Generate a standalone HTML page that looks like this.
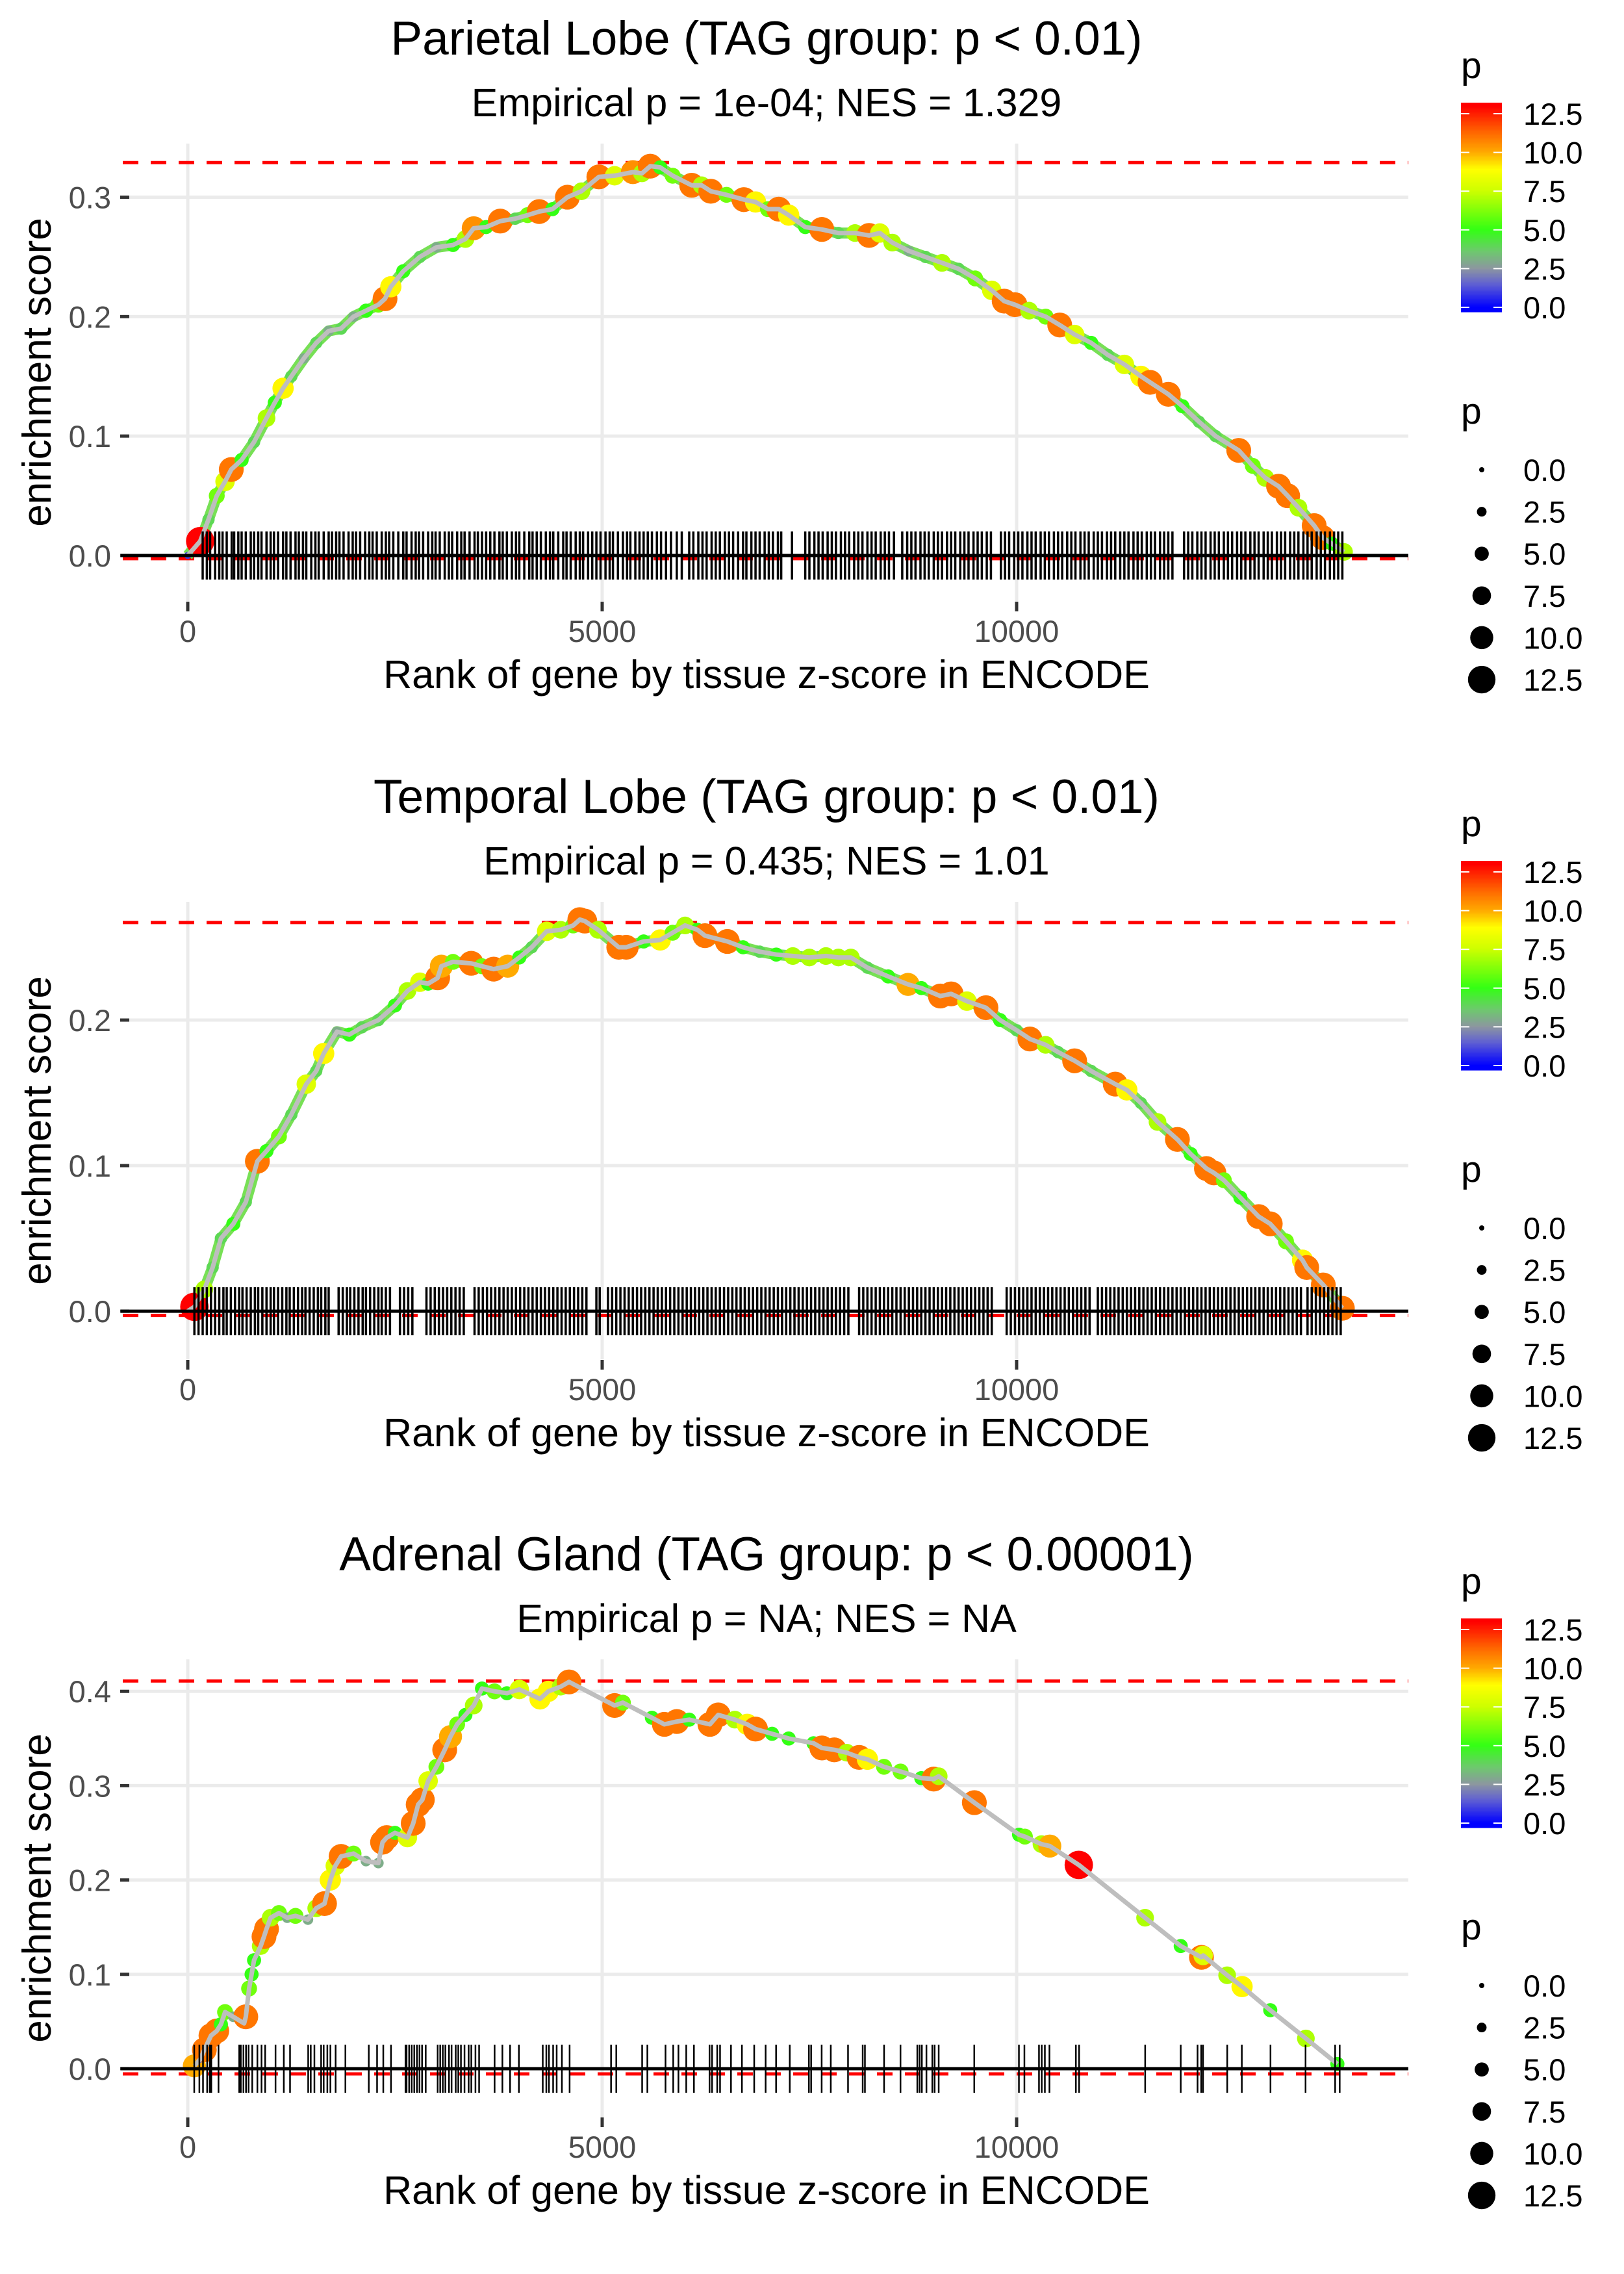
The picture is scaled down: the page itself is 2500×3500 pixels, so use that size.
<!DOCTYPE html>
<html><head><meta charset="utf-8">
<style>
html,body{margin:0;padding:0;background:#fff;}
svg{display:block;font-family:"Liberation Sans",Arial,sans-serif;}
</style></head>
<body>
<svg id="fig" width="2500" height="3500" viewBox="0 0 2500 3500" xmlns="http://www.w3.org/2000/svg"></svg>
<script>
// ---------- data ----------
const titles = ["Parietal Lobe (TAG group: p < 0.01)","Temporal Lobe (TAG group: p < 0.01)","Adrenal Gland (TAG group: p < 0.00001)"];
const subtitles = ["Empirical p = 1e-04; NES = 1.329","Empirical p = 0.435; NES = 1.01","Empirical p = NA; NES = NA"];
const xTicks = [0,5000,10000];
const yTicks1 = [0,0.1,0.2,0.3];
const yTicks2 = [0,0.1,0.2];
const yTicks3 = [0,0.1,0.2,0.3,0.4];
const esMax = [0.329,0.267,0.411];
const esMin = [-0.0027,-0.0029,-0.0055];
const legendTicks = [0,2.5,5,7.5,10,12.5];

const p1 = [[0,0,1],[150,0.012,13],[250,0.03,4],[350,0.05,6],[450,0.062,8],[525,0.072,11],[650,0.08,5],[800,0.095,4],[950,0.115,7],[1050,0.128,5],[1150,0.14,9],[1250,0.15,4],[1400,0.165,3],[1550,0.178,4],[1700,0.188,3],[1850,0.19,4],[2000,0.2,3],[2150,0.205,5],[2300,0.21,6],[2380,0.215,11],[2450,0.225,9],[2600,0.238,5],[2800,0.25,4],[3000,0.258,3],[3200,0.26,5],[3350,0.265,7],[3450,0.274,10.5],[3600,0.275,5],[3770,0.28,11],[3950,0.282,4],[4100,0.285,6],[4240,0.288,11],[4400,0.29,5],[4580,0.3,11],[4750,0.305,7],[4960,0.317,11],[5150,0.318,8],[5370,0.321,10.5],[5480,0.32,7],[5580,0.326,11],[5700,0.325,5],[5850,0.318,6],[6080,0.31,11],[6200,0.31,7],[6310,0.305,11],[6500,0.302,6],[6710,0.298,11],[6850,0.296,9],[7000,0.29,6],[7130,0.29,11],[7250,0.285,9],[7450,0.275,5],[7650,0.273,11],[7850,0.27,4],[8050,0.27,7],[8220,0.268,11],[8350,0.27,8],[8500,0.262,7],[8700,0.255,3],[8900,0.25,4],[9100,0.245,7],[9300,0.24,4],[9500,0.232,6],[9700,0.222,8],[9850,0.213,11],[9980,0.21,11],[10150,0.205,7],[10350,0.2,6],[10520,0.193,11],[10700,0.185,8],[10900,0.178,5],[11100,0.168,4],[11300,0.16,8],[11500,0.15,9],[11610,0.145,11],[11830,0.135,11],[12000,0.125,5],[12200,0.112,4],[12400,0.1,4],[12680,0.088,11],[12850,0.075,6],[13000,0.065,7],[13160,0.058,11],[13270,0.05,11],[13400,0.04,7],[13590,0.025,11],[13690,0.015,11],[13800,0.01,5],[13950,0.003,7]];
const p2 = [[0,0,1],[80,0.003,13],[200,0.015,7],[300,0.03,4],[400,0.05,4],[550,0.06,5],[700,0.075,4],[840,0.103,11],[950,0.11,5],[1100,0.12,6],[1250,0.135,4],[1430,0.156,8],[1550,0.165,4],[1640,0.177,9],[1800,0.192,3],[1950,0.19,5],[2100,0.195,4],[2300,0.2,4],[2500,0.21,5],[2650,0.22,7],[2800,0.226,8],[2900,0.225,5],[3015,0.229,11],[3060,0.237,10],[3200,0.24,6],[3420,0.239,11],[3550,0.237,6],[3690,0.235,11],[3860,0.237,10],[4000,0.243,5],[4150,0.25,4],[4330,0.261,8],[4500,0.262,7],[4650,0.265,6],[4730,0.269,11],[4790,0.268,11],[4950,0.262,7],[5200,0.25,11],[5290,0.25,11],[5500,0.254,5],[5700,0.255,9],[5850,0.26,6],[6000,0.265,7],[6150,0.262,5],[6240,0.258,11],[6510,0.254,11],[6700,0.25,5],[6900,0.247,4],[7100,0.245,5],[7300,0.244,7],[7500,0.243,7],[7700,0.244,7],[7850,0.243,7],[8000,0.243,7],[8200,0.236,4],[8450,0.23,5],[8690,0.2245,10],[8850,0.222,5],[9080,0.2165,11],[9210,0.218,11],[9400,0.213,8],[9630,0.2085,11],[9800,0.2,5],[10000,0.193,4],[10160,0.187,11],[10350,0.183,7],[10500,0.178,4],[10700,0.172,11],[10900,0.165,4],[11190,0.156,11],[11330,0.152,9],[11500,0.143,4],[11700,0.13,7],[11940,0.118,11],[12100,0.108,5],[12290,0.098,11],[12380,0.095,11],[12500,0.09,6],[12700,0.078,5],[12920,0.065,11],[13060,0.06,11],[13250,0.048,6],[13450,0.035,9],[13500,0.03,11],[13700,0.018,11],[13930,0.002,11]];
const p3 = [[80,0.003,10],[150,0.01,1],[200,0.02,11],[280,0.035,11],[350,0.04,11],[400,0.047,5],[450,0.06,6],[550,0.055,3],[680,0.048,3],[700,0.055,11],[740,0.085,6],[770,0.1,5],[800,0.115,5],[880,0.13,7],[920,0.14,11],[950,0.148,11],[1000,0.16,7],[1100,0.165,6],[1200,0.16,3],[1300,0.162,6],[1450,0.158,3],[1550,0.17,7],[1650,0.175,11],[1720,0.2,9],[1780,0.215,8],[1850,0.225,11],[2000,0.228,6],[2150,0.22,3],[2300,0.218,3],[2350,0.24,11],[2400,0.245,11],[2500,0.25,5],[2650,0.245,8],[2720,0.26,11],[2780,0.28,11],[2830,0.285,11],[2900,0.305,8],[3000,0.32,6],[3100,0.338,11],[3170,0.352,10],[3250,0.365,6],[3350,0.375,5],[3450,0.385,7],[3550,0.403,5],[3700,0.4,6],[3850,0.398,5],[4000,0.402,8],[4250,0.392,9],[4350,0.4,9],[4500,0.405,7],[4600,0.41,11],[5150,0.385,11],[5250,0.388,6],[5600,0.372,5],[5750,0.365,11],[5900,0.368,11],[6050,0.37,5],[6300,0.365,11],[6400,0.375,11],[6600,0.37,7],[6750,0.365,9],[6850,0.36,11],[7050,0.355,5],[7250,0.35,5],[7550,0.345,5],[7650,0.34,11],[7800,0.338,11],[7950,0.335,7],[8100,0.33,11],[8200,0.328,9],[8400,0.32,6],[8600,0.315,6],[8850,0.308,5],[9000,0.307,11],[9060,0.31,7],[9490,0.282,11],[10030,0.248,5],[10100,0.246,6],[10300,0.238,7],[10400,0.236,10],[10750,0.216,13],[11550,0.16,7],[11980,0.13,5],[12230,0.118,11],[12250,0.12,8],[12540,0.099,7],[12720,0.087,9],[13060,0.062,5],[13490,0.032,7],[13870,0.005,5]];

const rug1 = [180,230,270,330,380,420,470,530,560,610,650,700,760,800,850,890,950,1000,1040,1090,1150,1190,1240,1300,1340,1390,1430,1490,1540,1580,1640,1700,1740,1790,1830,1880,1940,1990,2030,2080,2140,2190,2230,2280,2340,2390,2430,2480,2540,2600,2640,2700,2750,2790,2840,2900,2950,2990,3040,3100,3150,3190,3250,3300,3340,3400,3460,3500,3550,3600,3650,3700,3760,3800,3850,3910,3960,4000,4060,4120,4160,4210,4260,4320,4370,4410,4470,4530,4570,4620,4680,4730,4770,4830,4880,4930,4980,5040,5090,5130,5190,5250,5300,5340,5400,5450,5500,5550,5600,5660,5710,5770,5830,5900,5960,6050,6100,6160,6210,6260,6320,6370,6420,6480,6530,6580,6640,6700,6740,6800,6850,6900,6960,7010,7060,7120,7160,7290,7450,7500,7560,7610,7660,7720,7770,7820,7880,7930,7980,8040,8090,8140,8200,8250,8300,8360,8410,8460,8520,8620,8680,8730,8780,8840,8890,8940,9000,9050,9100,9160,9210,9260,9320,9370,9420,9480,9530,9580,9640,9690,9810,9860,9910,9970,10020,10070,10130,10180,10230,10290,10340,10390,10450,10500,10550,10610,10660,10710,10770,10820,10870,10930,10980,11030,11090,11140,11190,11250,11300,11350,11410,11460,11510,11570,11620,11670,11730,11780,11830,11880,12020,12070,12120,12180,12230,12280,12340,12390,12440,12500,12550,12600,12660,12710,12760,12820,12870,12920,12980,13030,13080,13140,13190,13240,13300,13350,13400,13460,13510,13560,13620,13670,13720,13780,13830,13880,13930];
const rug2 = [80,130,180,230,280,330,380,430,470,520,570,620,660,710,760,810,850,900,950,1000,1040,1090,1140,1190,1230,1280,1330,1380,1420,1470,1520,1570,1610,1660,1700,1820,1870,1920,1960,2010,2060,2110,2150,2200,2250,2300,2340,2390,2440,2560,2610,2660,2710,2880,2930,2980,3030,3080,3130,3180,3230,3280,3330,3460,3510,3560,3610,3660,3710,3760,3810,3860,3910,3960,4010,4060,4110,4160,4210,4260,4310,4360,4410,4460,4510,4560,4610,4660,4710,4760,4810,4930,4970,5070,5120,5170,5220,5270,5320,5370,5420,5470,5520,5570,5620,5670,5720,5770,5820,5870,5920,5970,6020,6070,6120,6170,6220,6270,6320,6370,6420,6470,6520,6570,6620,6670,6720,6770,6820,6870,6920,6970,7020,7070,7120,7170,7220,7270,7320,7370,7420,7470,7520,7570,7620,7670,7720,7770,7820,7870,7920,7970,8100,8150,8200,8250,8300,8350,8400,8450,8500,8550,8600,8650,8700,8750,8800,8850,8900,8950,9000,9050,9100,9150,9200,9250,9300,9350,9400,9450,9500,9550,9600,9650,9700,9880,9930,9980,10030,10080,10130,10180,10230,10280,10330,10380,10430,10480,10530,10580,10630,10680,10730,10780,10830,10880,10980,11030,11080,11130,11180,11230,11280,11330,11380,11430,11480,11530,11580,11630,11680,11730,11780,11830,11880,11930,11980,12030,12080,12130,12180,12230,12280,12330,12380,12430,12480,12530,12580,12630,12680,12730,12780,12830,12880,12930,12980,13030,13080,13130,13180,13230,13280,13330,13380,13430,13510,13560,13610,13660,13710,13760,13810,13860,13910];
const rug3 = [78,140,184,234,265,284,371,621,640,672,703,734,778,840,890,934,1059,1159,1234,1453,1484,1528,1609,1640,1684,1721,1784,1902,2184,2284,2359,2452,2627,2640,2671,2702,2733,2765,2796,2827,2871,3015,3046,3077,3108,3152,3183,3233,3264,3296,3339,3389,3421,3471,3515,3702,3796,3889,3995,4283,4326,4358,4408,4451,4514,4607,5107,5170,5482,5545,5764,5857,5920,6014,6107,6295,6326,6388,6422,6554,6686,6834,6972,7098,7263,7494,7521,7648,7758,7966,8143,8170,8401,8599,8802,8830,8857,8912,8983,9011,9060,9489,10028,10094,10270,10303,10341,10396,10715,10754,11551,11980,12183,12227,12249,12541,12717,13063,13486,13843,13898];

// ---------- helpers ----------
const NS = "http://www.w3.org/2000/svg";
const svg = document.getElementById("fig");
function mk(tag, attrs, parent){
  const e = document.createElementNS(NS, tag);
  for (const k in attrs) e.setAttribute(k, attrs[k]);
  (parent||svg).appendChild(e);
  return e;
}
const colStops = [[0,[0,0,255]],[1.5,[96,96,210]],[2.5,[140,150,160]],[3.6,[110,200,110]],[5,[51,255,20]],[7.5,[204,255,0]],[8.9,[255,255,0]],[10,[255,170,0]],[11.3,[255,102,0]],[13,[255,0,0]]];
function pColor(p){
  if (p<=colStops[0][0]) return "rgb("+colStops[0][1].join(",")+")";
  for (let i=1;i<colStops.length;i++){
    if (p<=colStops[i][0]){
      const a=colStops[i-1], b=colStops[i], t=(p-a[0])/(b[0]-a[0]);
      const c=a[1].map((v,j)=>Math.round(v+(b[1][j]-v)*t));
      return "rgb("+c.join(",")+")";
    }
  }
  return "rgb(255,0,0)";
}
function pRadius(p){ return (8 + 2.75*p)/2; }

const PX0 = 189, PX1 = 2168, PH = 704;
const XDOM = [-784, 14726];
const panelTops = [221, 1388, 2554];
const yDoms = [[-0.0381,0.3449],[-0.033,0.28125],[-0.051,0.4339]];
const yTickSets = [yTicks1, yTicks2, yTicks3];
const pointSets = [p1, p2, p3];
const rugSets = [rug1, rug2, rug3];
const halo = [true, true, false];

for (let k=0;k<3;k++){
  const T = panelTops[k];
  const yd = yDoms[k];
  const xs = v => PX0 + (v - XDOM[0])/(XDOM[1]-XDOM[0])*(PX1-PX0);
  const ys = v => T + PH - (v - yd[0])/(yd[1]-yd[0])*PH;
  const g = mk("g", {});
  
  

  const t = mk("text", {x:1180, y:T-137, "text-anchor":"middle", "font-size":73, fill:"#000"}, g);
  t.textContent = titles[k];
  
  
  const st = mk("text", {x:1180, y:T-42, "text-anchor":"middle", "font-size":61, fill:"#000"}, g);
  st.textContent = subtitles[k];
  
  

  // grid
  yTickSets[k].forEach(v=>{
    const l = mk("line",{x1:PX0,x2:PX1,y1:ys(v),y2:ys(v),stroke:"#ebebeb","stroke-width":5},g);
    
    
  });
  xTicks.forEach(v=>{
    const l = mk("line",{x1:xs(v),x2:xs(v),y1:T,y2:T+PH,stroke:"#ebebeb","stroke-width":5},g);
    
    
  });
  // axis ticks + labels
  yTickSets[k].forEach(v=>{
    const tk = mk("line",{x1:185,x2:199,y1:ys(v),y2:ys(v),stroke:"#333","stroke-width":5},g);
    
    
    const lb = mk("text",{x:171,y:ys(v)+17,"text-anchor":"end","font-size":47,fill:"#4d4d4d"},g);
    lb.textContent = v.toFixed(1);
    
    
  });
  xTicks.forEach(v=>{
    const tk = mk("line",{x1:xs(v),x2:xs(v),y1:T+PH+1,y2:T+PH+16,stroke:"#333","stroke-width":5},g);
    
    
    const lb = mk("text",{x:xs(v),y:T+750+17,"text-anchor":"middle","font-size":47,fill:"#4d4d4d"},g);
    lb.textContent = String(v);
    
    
  });
  const xt = mk("text",{x:1180,y:T+817+21,"text-anchor":"middle","font-size":61,fill:"#000"},g);
  xt.textContent = "Rank of gene by tissue z-score in ENCODE";
  
  
  const cy = T + PH/2;
  const yt = mk("text",{x:0,y:0,"text-anchor":"middle","font-size":62,fill:"#000",transform:"translate(78,"+cy+") rotate(-90)"},g);
  yt.textContent = "enrichment score";
  
  

  // reference lines
  const rMax = mk("line",{x1:PX0,x2:PX1,y1:ys(esMax[k]),y2:ys(esMax[k]),stroke:"#ff0000","stroke-width":5,"stroke-dasharray":"24 19"},g);
  
  
  const rMin = mk("line",{x1:PX0,x2:PX1,y1:ys(esMin[k]),y2:ys(esMin[k]),stroke:"#ff0000","stroke-width":5,"stroke-dasharray":"24 19"},g);
  
  

  const pts = pointSets[k];
  const d = pts.map((p,i)=>(i?"L":"M")+xs(p[0]).toFixed(1)+","+ys(p[1]).toFixed(1)).join("");
  if (halo[k]){
    const h = mk("path",{d:d,fill:"none",stroke:"#77e055","stroke-width":17,"stroke-linejoin":"round"},g);
    
    
  }
  pts.forEach(p=>{
    const c = mk("circle",{cx:xs(p[0]),cy:ys(p[1]),r:pRadius(p[2]),fill:pColor(p[2])},g);
    
    
  });
  const ln = mk("path",{d:d,fill:"none",stroke:"#bebebe","stroke-width":7,"stroke-linejoin":"round"},g);
  
  

  // rug
  const rw = k<2 ? 3.5 : 2.5;
  rugSets[k].forEach(r=>{
    const l = mk("line",{x1:xs(r),x2:xs(r),y1:ys(0)-37,y2:ys(0)+37,stroke:"#000","stroke-width":rw},g);
    
    
  });
  const z = mk("line",{x1:PX0-3,x2:PX1,y1:ys(0),y2:ys(0),stroke:"#000","stroke-width":5},g);
  
  

  // legends
  const L = T - 221;
  const lg = mk("g",{},svg);
  
  
  const lt = mk("text",{x:2249,y:L+120,"font-size":57,fill:"#000"},lg);
  lt.textContent = "p";
  
  
  const barTop = L+158, barBot = L+479;
  const lyv = v => (L+473) - v*(298/12.5);
  for (let yy=barTop; yy<barBot; yy+=2){
    const v = (L+473 - (yy+1))/(298/12.5);
    const r = mk("rect",{x:2249,y:yy,width:63,height:2.6,fill:pColor(v)},lg);
    
    
  }
  legendTicks.forEach(v=>{
    const a = mk("line",{x1:2249,x2:2262,y1:lyv(v),y2:lyv(v),stroke:"#fff","stroke-width":2},lg);
    
    
    const b = mk("line",{x1:2299,x2:2312,y1:lyv(v),y2:lyv(v),stroke:"#fff","stroke-width":2},lg);
    
    
    const tx = mk("text",{x:2345,y:lyv(v)+17,"font-size":47,fill:"#000"},lg);
    tx.textContent = v.toFixed(1);
    
    
  });
  const sg = mk("g",{},svg);
  
  
  const s2 = mk("text",{x:2249,y:L+652,"font-size":57,fill:"#000"},sg);
  s2.textContent = "p";
  
  
  legendTicks.forEach((v,i)=>{
    const yy = L + 723 + i*64.6;
    const c = mk("circle",{cx:2281,cy:yy,r:pRadius(v),fill:"#000"},sg);
    
    
    const tx = mk("text",{x:2345,y:yy+17,"font-size":47,fill:"#000"},sg);
    tx.textContent = v.toFixed(1);
    
    
  });
}
</script>
</body></html>
